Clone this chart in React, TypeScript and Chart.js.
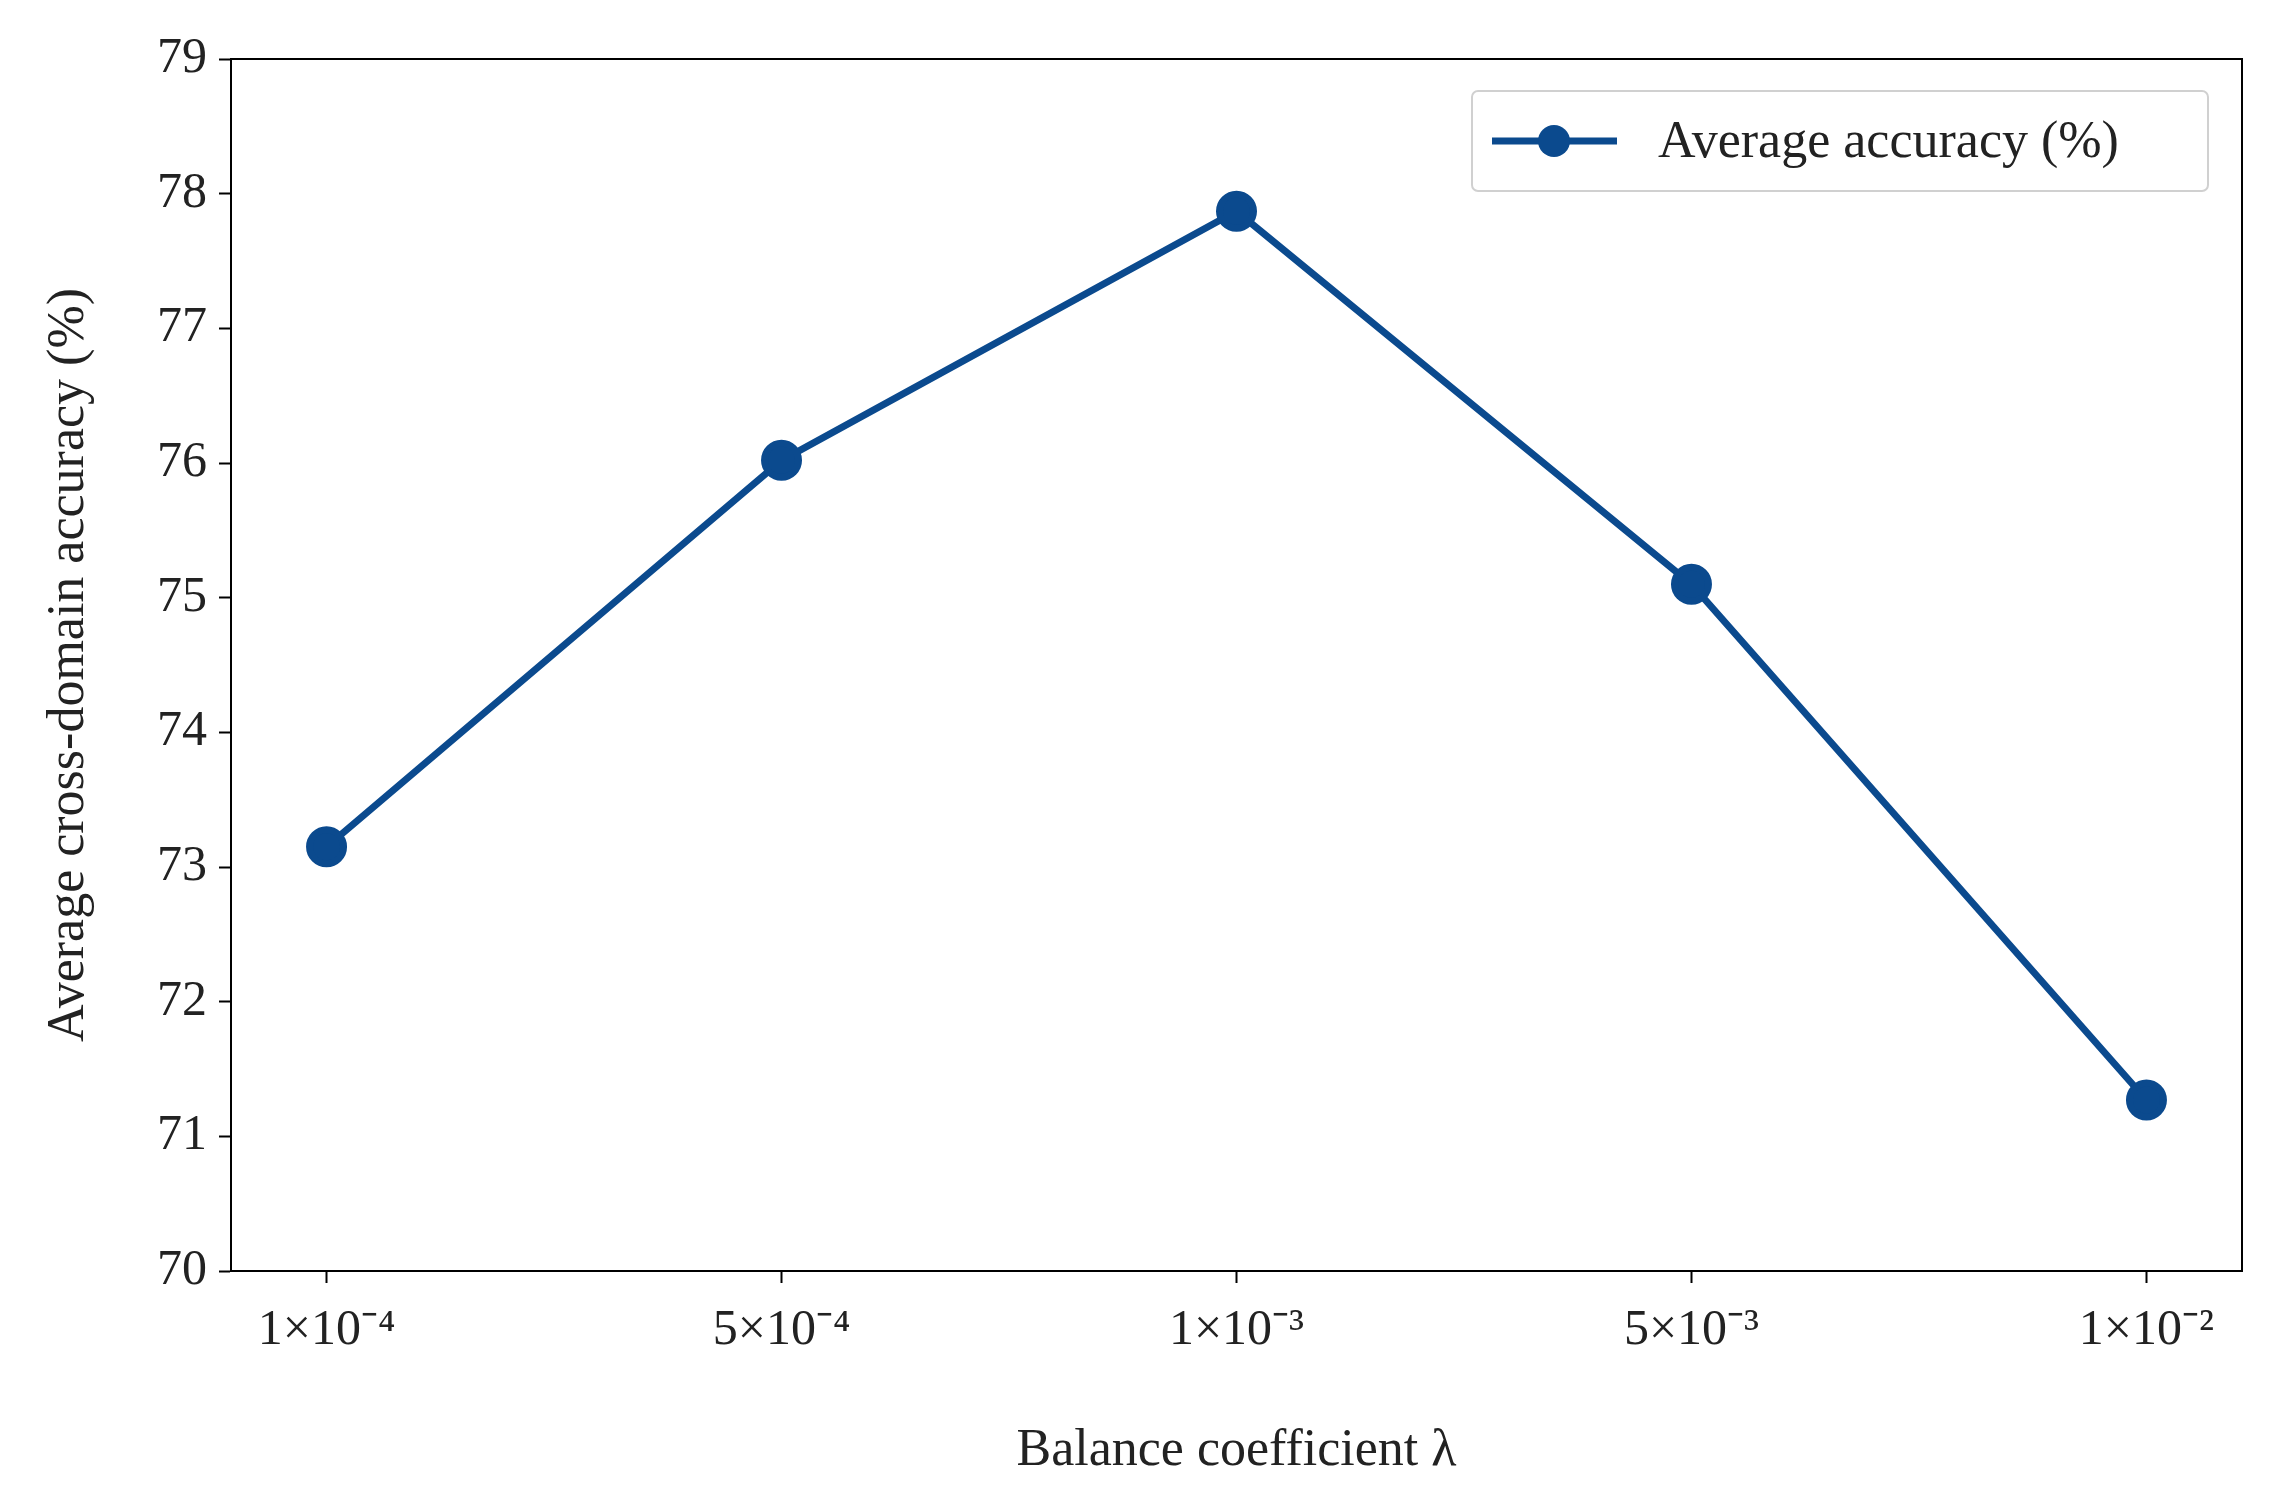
import React, { useEffect, useRef } from 'react'
import { Chart, registerables } from 'chart.js'
Chart.register(...registerables)

const xLabels = ['1×10⁻⁴', '5×10⁻⁴', '1×10⁻³', '5×10⁻³', '1×10⁻²']
const accuracy = [73.15, 76.02, 77.87, 75.1, 71.27]
const yTicks = [70, 71, 72, 73, 74, 75, 76, 77, 78, 79]
const seriesName = 'Average accuracy (%)'
const color = '#0b4a8e'
const font = 'Liberation Serif'

const frame = {
  id: 'frame',
  afterDraw(chart: any) {
    const { ctx, chartArea: a } = chart
    ctx.save()
    ctx.strokeStyle = '#000'
    ctx.lineWidth = 2
    ctx.strokeRect(a.left, a.top, a.right - a.left, a.bottom - a.top)
    // legend box inside plot, top-right
    const w = 736, h = 100
    const x = a.right - 34 - w, y = a.top + 32
    ctx.fillStyle = 'rgba(255,255,255,0.8)'
    ctx.strokeStyle = '#d0d0d0'
    ctx.lineWidth = 2
    ctx.beginPath()
    ctx.roundRect(x, y, w, h, 6)
    ctx.fill()
    ctx.stroke()
    ctx.strokeStyle = color
    ctx.lineWidth = 7
    ctx.beginPath()
    ctx.moveTo(x + 20, y + h / 2)
    ctx.lineTo(x + 145, y + h / 2)
    ctx.stroke()
    ctx.fillStyle = color
    ctx.beginPath()
    ctx.arc(x + 82, y + h / 2, 16, 0, Math.PI * 2)
    ctx.fill()
    ctx.fillStyle = '#222'
    ctx.font = `52px "${font}"`
    ctx.textBaseline = 'middle'
    ctx.fillText(seriesName, x + 186, y + h / 2 + 2)
    ctx.restore()
  },
}

const App: React.FC = () => {
  const ref = useRef<HTMLCanvasElement | null>(null)
  useEffect(() => {
    document.body.style.margin = '0'
    if (!ref.current) return
    const chart = new Chart(ref.current.getContext('2d')!, {
      type: 'line',
      data: {
        datasets: [{
          label: seriesName,
          data: accuracy.map((v, i) => ({ x: i, y: v })),
          borderColor: color,
          backgroundColor: color,
          borderWidth: 7,
          pointRadius: 17,
          pointHoverRadius: 17,
          tension: 0,
        }],
      },
      plugins: [frame],
      options: {
        animation: false,
        responsive: false,
        layout: { padding: { top: 59, right: 49, left: 0, bottom: 0 } },
        plugins: { legend: { display: false }, tooltip: { enabled: false } },
        scales: {
          x: {
            type: 'linear', min: -0.21, max: 4.21,
            afterFit: (s: any) => { s.height = 222 },
            afterBuildTicks: (s: any) => { s.ticks = xLabels.map((_, i) => ({ value: i })) },
            ticks: {
              callback: (v: any) => xLabels[v] ?? '',
              font: { family: font, size: 50 }, color: '#222', padding: 18, maxRotation: 0,
            },
            grid: { drawOnChartArea: false, tickLength: 12, color: '#000', tickWidth: 2 },
            border: { color: '#000', width: 2 },
            title: { display: true, text: 'Balance coefficient λ', font: { family: font, size: 52 }, color: '#222', padding: { top: 10, bottom: 10 } },
          },
          y: {
            min: 70, max: 79,
            afterFit: (s: any) => { s.width = 231 },
            afterBuildTicks: (s: any) => { s.ticks = yTicks.map(v => ({ value: v })) },
            ticks: { font: { family: font, size: 50 }, color: '#222', padding: 12 },
            grid: { drawOnChartArea: false, tickLength: 12, color: '#000', tickWidth: 2 },
            border: { color: '#000', width: 2 },
            title: { display: true, text: 'Average cross-domain accuracy (%)', font: { family: font, size: 52 }, color: '#222', padding: { bottom: 0, top: 38 } },
          },
        },
      },
    })
    return () => chart.destroy()
  }, [])
  return <div style={{ width: 2291, height: 1493, overflow: 'hidden', background: '#fff' }}>
    <canvas ref={ref} width={2291} height={1493} style={{ display: 'block' }} />
  </div>
}

export default App
